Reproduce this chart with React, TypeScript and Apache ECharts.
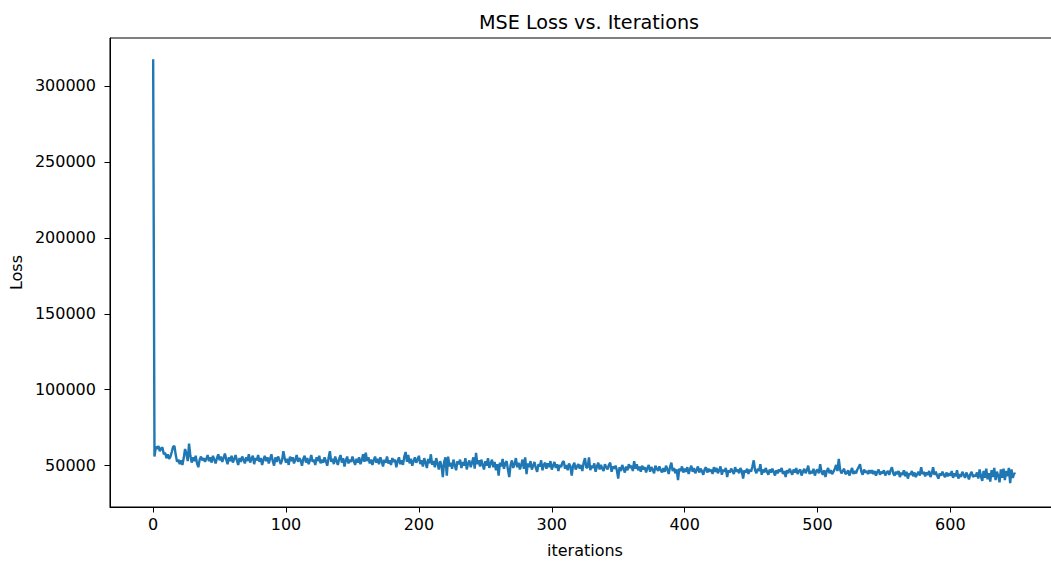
import React, { useEffect, useRef } from "react";
import * as echarts from "echarts";

const titleText = "MSE Loss vs. Iterations";
const xName = "iterations";
const yName = "Loss";
const xTicks = [0, 100, 200, 300, 400, 500, 600];
const yTicks = [50000, 100000, 150000, 200000, 250000, 300000];
const xRange = [-32.5, 682.5];
const yRange = [22800, 331560];

const loss = [
  317500, 56000, 62500, 61000, 63000, 59500, 61500, 62000, 57500, 58500,
  55000, 57500, 54500, 56000, 59000, 62500, 63000, 57000, 52500, 54000,
  51000, 53500, 50500, 55000, 61000, 58000, 53000, 64500, 56500, 52000,
  55500, 53000, 56500, 51500, 49000, 54000, 56000, 53500, 55000, 52500,
  54500, 57000, 53000, 55500, 52000, 56500, 54000, 51500, 55000, 57500,
  53500, 56000, 52500, 55000, 58000, 54000, 51000, 55500, 53000, 56500,
  52000, 54500, 57000, 53500, 50500, 55000, 52500, 56000, 54000, 51500,
  55500, 53000, 57500, 52000, 54500, 56500, 51000, 55000, 53500, 57000,
  52500, 55000, 50500, 54000, 56500, 53000, 55500, 51500, 54500, 57500,
  53000, 50000, 55500, 52500, 56000, 54000, 51000, 53500, 59500, 55000,
  52000, 54500, 50500, 56000, 53000, 55500, 51500, 54000, 57000, 52500,
  55000, 53500, 50000, 54500, 56500, 52000, 55000, 51000, 53500, 57000,
  52500, 54000, 50500, 55500, 53000, 56500, 51500, 54000, 52000, 55500,
  53000, 50000, 55000, 59500, 52500, 54500, 51000, 56000, 53000, 50500,
  54500, 57000, 52000, 55000, 49500, 53500, 56000, 51500, 54000, 52500,
  56000, 53000, 50500, 54500, 52000, 55500, 51000, 53500, 57500, 52500,
  58500, 53000, 55500, 51500, 54000, 50500, 53500, 56000, 52000, 54500,
  51000, 55500, 53000, 49500, 54000, 52000, 56000, 51500, 53500, 50500,
  55000, 52500, 54000, 49000, 53000, 55500, 51000, 53500, 50500, 56000,
  59000, 52500, 57000, 51500, 54500, 50000, 53000, 55500, 52000, 54000,
  56500, 51000, 53500, 49500, 55000, 52000, 48500, 54500, 51500, 57500,
  50500, 53000, 49000, 55000, 51500, 47500, 53000, 50000, 42500, 52500,
  55500, 43500, 56000, 49500, 52000, 48000, 54000, 50500, 47000, 53000,
  51000, 54000, 48500, 52500, 50000, 55000, 47500, 51500, 53500, 49000,
  52000, 55500, 48000, 58500, 51000, 53500, 49500, 54000, 50500, 47500,
  53000, 50000, 55000, 48500, 51500, 54000, 49000, 52500, 47000, 51000,
  43500, 52000, 49500, 54500, 48000, 51500, 53000, 47500, 42500, 50500,
  53500, 48500, 51000, 55000, 49000, 52000, 47500, 50500, 54000, 48000,
  55500, 44500, 51500, 49000, 53000, 47500, 50000, 52500, 48500, 46000,
  51000, 49500, 53500, 47000, 50500, 52000, 48000, 51500, 49000, 53000,
  47500, 50000, 52500, 48500, 51000, 46500, 50500, 49000, 52000, 53000,
  48000, 50500, 47000, 51500, 49500, 43500, 50000, 52000, 47500, 49500,
  51000, 48000, 50500, 46500, 52000, 55000, 48500, 49000, 55500, 47000,
  50000, 48500, 51500, 46000, 49500, 52000, 47500, 50500, 48000, 46500,
  51000, 49000, 47500, 50500, 52000, 46000, 49500, 48000, 50000, 47000,
  41500, 49000, 46500, 50500, 48000, 45500, 49500, 47000, 51000, 48500,
  50000, 46500, 53000, 48000, 51000, 47000, 49500, 46000, 50000, 47500,
  49000, 45500, 48500, 50500, 46000, 49000, 47500, 45000, 50000, 48000,
  46500, 49500, 47000, 45500, 48500, 46000, 50000, 47500, 44500, 49000,
  52000, 46500, 48500, 45000, 47500, 40500, 48000, 46500, 49500, 45500,
  48000, 46000, 49000, 44500, 47500, 50000, 46000, 48500, 45000, 47000,
  49500, 45500, 48000, 46500, 44000, 47500, 49000, 45500, 48000, 46000,
  47500, 44500, 49000, 46000, 48500, 45000, 47000, 49500, 44000, 47500,
  46000, 48500, 42500, 47000, 45500, 48000, 46500, 44500, 49000, 46000,
  47500, 45000, 48500, 46500, 41500, 47000, 45500, 48000, 44500, 47500,
  46000, 49500, 53500, 47000, 45000, 48000, 46500, 51000, 44000, 47500,
  45500, 48500, 46000, 44000, 47500, 45500, 48000, 46000, 43500, 47000,
  45000, 47500, 46000, 48500, 44500, 46500, 42500, 47000, 45000, 48000,
  46000, 44000, 47500, 45500, 48500, 44500, 46500, 47500, 43500, 46000,
  48000, 45000, 47000, 50000, 44500, 46500, 45000, 48000, 43500, 46500,
  47500, 45000, 51000, 46000, 44000, 47000, 42500, 46500, 48500, 45000,
  47000, 44500, 46000, 48000, 50500, 46500, 54500, 47500, 45000, 46500,
  48000, 44500, 45000, 47000, 43500, 46000, 48500, 44500, 46500, 45000,
  47500, 49000, 51000, 46000, 44000, 47500, 45500, 46500, 44500, 47000,
  45000, 47000, 44500, 46500, 43500, 46000, 47500, 44000, 46000, 45000,
  47000, 43500, 45500, 46500, 44000, 47000, 49000, 45000, 43500, 46000,
  44500, 46500, 42500, 45500, 44000, 47000, 43000, 46000, 41500, 45000,
  44000, 46500, 43000, 45500, 42500, 44500, 46000, 43500, 49000, 44500,
  46000, 43000, 45500, 44000, 46500, 42500, 45000, 49000, 44000, 46000,
  43500, 41500, 45000, 43500, 46000, 44000, 42500, 45500, 43000, 45000,
  43500, 46500, 42000, 45000, 43000, 47000, 41500, 44500, 42500, 46000,
  44000, 42000, 45500, 43500, 41000, 44500, 46000, 42500, 44000, 43000,
  45500, 41500, 47500, 43000, 40000, 46500, 42000, 48000, 41000, 45000,
  39500, 47000, 42500, 48500, 40500, 46000, 43500, 39000, 47500, 42000,
  48000, 40500, 46500, 43000, 48500, 38500, 47500, 42000, 45000, 44500,
];

const FONT = "DejaVu Sans";
const TICK_FONT = 16;

export default function App() {
  const ref = useRef<HTMLDivElement>(null);
  useEffect(() => {
    if (!ref.current) return;
    const chart = echarts.init(ref.current, undefined, { renderer: "svg" });
    const seriesData = loss.map((v, i) => [i, v]);
    chart.setOption({
      animation: false,
      backgroundColor: "#ffffff",
      textStyle: { fontFamily: FONT },
      title: {
        text: titleText,
        left: 584,
        top: 8,
        textAlign: "center",
        textStyle: { fontFamily: FONT, fontSize: 19.2, fontWeight: "normal", color: "#000" },
      },
      grid: {
        left: 109,
        top: 38,
        width: 951,
        height: 473.5,
        show: true,
        borderColor: "#000",
        borderWidth: 1,
        backgroundColor: "transparent",
      },
      xAxis: {
        type: "value",
        min: xRange[0],
        max: xRange[1],
        name: xName,
        nameLocation: "middle",
        nameGap: 35,
        nameTextStyle: { fontFamily: FONT, fontSize: TICK_FONT, color: "#000" },
        axisLine: { show: true, onZero: false, lineStyle: { color: "#000", width: 1 } },
        axisTick: { show: true, customValues: xTicks, length: 5.5, lineStyle: { color: "#000", width: 1 } },
        axisLabel: { customValues: xTicks, margin: 9, fontFamily: FONT, fontSize: TICK_FONT, color: "#000", formatter: (v: number) => String(v) },
        splitLine: { show: false },
      },
      yAxis: {
        type: "value",
        min: yRange[0],
        max: yRange[1],
        name: yName,
        nameLocation: "middle",
        nameGap: 84,
        nameTextStyle: { fontFamily: FONT, fontSize: TICK_FONT, color: "#000" },
        axisLine: { show: true, onZero: false, lineStyle: { color: "#000", width: 1 } },
        axisTick: { show: true, customValues: yTicks, length: 5.5, lineStyle: { color: "#000", width: 1 } },
        axisLabel: { customValues: yTicks, margin: 14, fontFamily: FONT, fontSize: TICK_FONT, color: "#000", formatter: (v: number) => String(v) },
        splitLine: { show: false },
      },
      series: [
        {
          type: "line",
          data: seriesData,
          showSymbol: false,
          symbol: "none",
          lineStyle: { color: "#1f77b4", width: 2.4 },
          itemStyle: { color: "#1f77b4" },
        },
      ],
    });
    return () => chart.dispose();
  }, []);
  return (
    <div style={{ position: "fixed", left: 0, top: 0, width: 1051, height: 563, overflow: "hidden", background: "#fff" }}>
      <div ref={ref} style={{ width: 1075, height: 563 }} />
    </div>
  );
}
